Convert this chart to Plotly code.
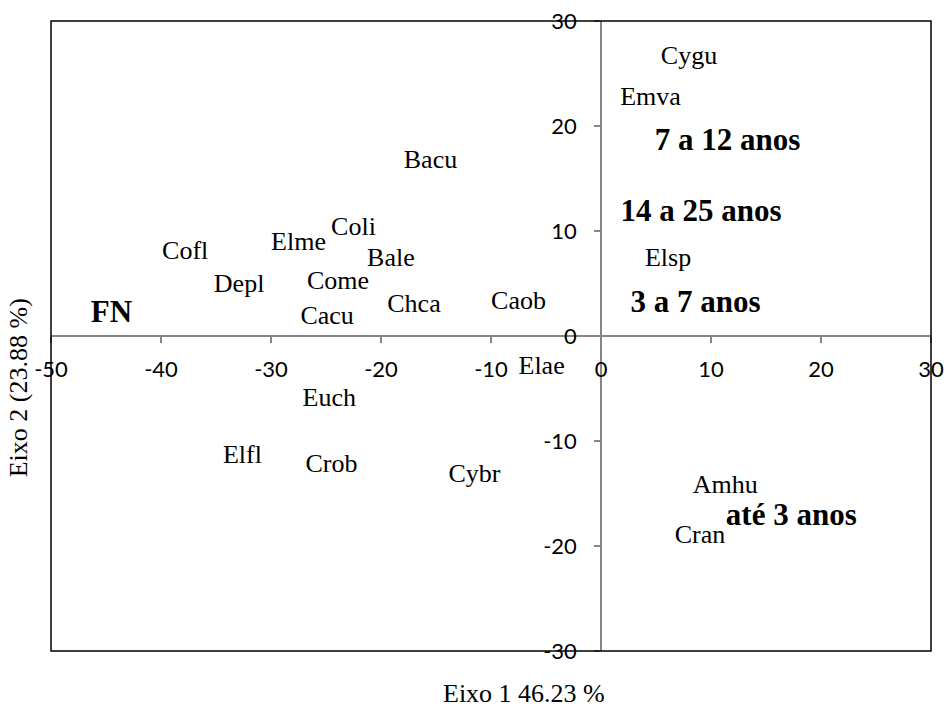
import plotly.graph_objects as go

# Species scores on the first two ordination axes
species = ["Cygu", "Emva", "Bacu", "Coli", "Elme", "Cofl", "Bale", "Elsp",
           "Depl", "Come", "Caob", "Chca", "Cacu", "Elae", "Euch", "Elfl",
           "Crob", "Cybr", "Amhu", "Cran"]
species_x = [8.0, 4.5, -15.5, -22.5, -27.5, -37.8, -19.1, 6.1,
             -32.9, -23.9, -7.5, -17.0, -24.9, -5.4, -24.7, -32.6,
             -24.5, -11.5, 11.3, 9.0]
species_y = [26.5, 22.6, 16.6, 10.2, 8.8, 8.0, 7.3, 7.3,
             4.8, 5.1, 3.2, 2.9, 1.8, -3.0, -6.0, -11.5,
             -12.3, -13.3, -14.3, -19.1]

# Age classes and the FN group
groups = ["7 a 12 anos", "14 a 25 anos", "3 a 7 anos", "até 3 anos", "FN"]
groups_x = [11.5, 9.1, 8.6, 17.3, -44.5]
groups_y = [18.5, 11.7, 3.0, -17.3, 2.1]

x_ticks = [-50, -40, -30, -20, -10, 0, 10, 20, 30]
y_ticks = [-30, -20, -10, 0, 10, 20, 30]

x_title = "Eixo 1 46.23 %"
y_title = "Eixo 2 (23.88 %)"

serif = "Liberation Serif, Times New Roman, serif"
axis_gray = "#868686"

fig = go.Figure()
fig.add_trace(go.Scatter(
    x=species_x, y=species_y, text=species, mode="text",
    textposition="middle center",
    textfont=dict(family=serif, size=26, color="black"),
    hoverinfo="skip", showlegend=False,
))
fig.add_trace(go.Scatter(
    x=groups_x, y=groups_y, text=groups, mode="text",
    textposition="middle center",
    textfont=dict(family=serif, size=31, color="black", weight="bold"),
    hoverinfo="skip", showlegend=False,
))

tick_font = dict(family="Lato, Open Sans, sans-serif", size=22, color="black")

fig.update_layout(
    width=944, height=709,
    margin=dict(l=51, r=13, t=21, b=58, autoexpand=False),
    paper_bgcolor="white", plot_bgcolor="white",
    xaxis=dict(
        range=[-50, 30], tickvals=x_ticks, ticktext=[str(v) for v in x_ticks],
        anchor="free", position=0.5, automargin=False,
        showline=True, linecolor=axis_gray, linewidth=1.5,
        ticks="outside", ticklen=6, tickcolor=axis_gray, tickwidth=1.5,
        showgrid=False, zeroline=False, tickfont=tick_font,
        ticklabelstandoff=8,
    ),
    yaxis=dict(
        range=[-30, 30], tickvals=y_ticks, ticktext=[str(v) for v in y_ticks],
        anchor="free", position=0.625, automargin=False,
        showline=True, linecolor=axis_gray, linewidth=1.5,
        ticks="outside", ticklen=6, tickcolor=axis_gray, tickwidth=1.5,
        showgrid=False, zeroline=False, tickfont=tick_font,
        ticklabelstandoff=13,
    ),
    shapes=[dict(
        type="rect", xref="paper", yref="paper", x0=0, x1=1, y0=0, y1=1,
        line=dict(color="black", width=1.5), layer="above",
    )],
    annotations=[
        dict(text=x_title, xref="paper", yref="paper", x=0.5375, y=-0.067,
             xanchor="center", yanchor="middle", showarrow=False,
             font=dict(family=serif, size=26, color="black")),
        dict(text=y_title, xref="paper", yref="paper", x=-0.0375, y=0.417,
             xanchor="center", yanchor="middle", showarrow=False, textangle=-90,
             font=dict(family=serif, size=26, color="black")),
    ],
)

fig.write_html("out.html")
